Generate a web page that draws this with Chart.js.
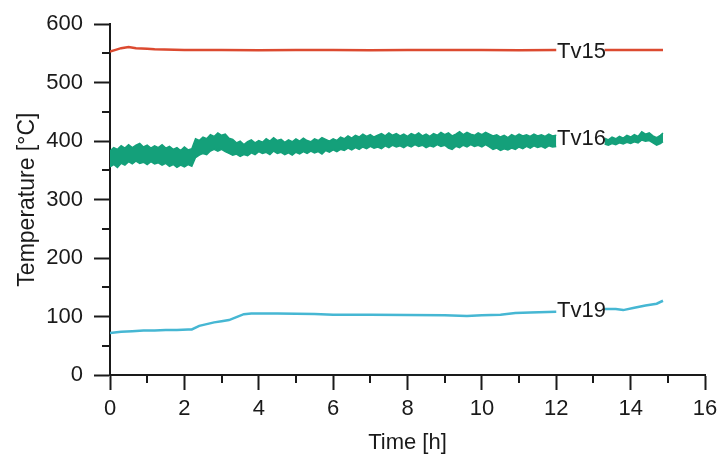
<!DOCTYPE html>
<html>
<head>
<meta charset="utf-8">
<script src="https://cdn.jsdelivr.net/npm/chart.js@4"></script>
<style>
  html, body { margin: 0; padding: 0; background: #ffffff; }
  #wrap { width: 717px; height: 455px; }
</style>
</head>
<body>
<div id="wrap"><canvas id="c" width="717" height="455"></canvas></div>
<script>
// ---- Data ----
const t15 = [0, 0.15, 0.3, 0.5, 0.7, 1.0, 1.2, 2, 3, 4, 5, 6, 7, 8, 9, 10, 11, 12.0, 12.6, 13.3, 14, 14.87];
const v15 = [553, 556, 559, 561, 559, 558, 557, 556, 556, 555.5, 556, 556, 555.5, 556, 556, 556, 555.5, 556, null, 556, 556, 556];

const t16 = [
  0, 0.1, 0.2, 0.3, 0.4, 0.5, 0.6, 0.7, 0.8, 0.9,
  1.0, 1.1, 1.2, 1.3, 1.4, 1.5, 1.6, 1.7, 1.8, 1.9,
  2.0, 2.1, 2.2, 2.3, 2.4, 2.5, 2.6, 2.7, 2.8, 2.9,
  3.0, 3.1, 3.2, 3.3, 3.4, 3.5, 3.6, 3.7, 3.8, 3.9,
  4.0, 4.1, 4.2, 4.3, 4.4, 4.5, 4.6, 4.7, 4.8, 4.9,
  5.0, 5.1, 5.2, 5.3, 5.4, 5.5, 5.6, 5.7, 5.8, 5.9,
  6.0, 6.1, 6.2, 6.3, 6.4, 6.5, 6.6, 6.7, 6.8, 6.9,
  7.0, 7.1, 7.2, 7.3, 7.4, 7.5, 7.6, 7.7, 7.8, 7.9,
  8.0, 8.1, 8.2, 8.3, 8.4, 8.5, 8.6, 8.7, 8.8, 8.9,
  9.0, 9.1, 9.2, 9.3, 9.4, 9.5, 9.6, 9.7, 9.8, 9.9,
  10.0, 10.1, 10.2, 10.3, 10.4, 10.5, 10.6, 10.7, 10.8, 10.9,
  11.0, 11.1, 11.2, 11.3, 11.4, 11.5, 11.6, 11.7, 11.8, 11.9,
  12.0, 12.6,
  13.3, 13.4, 13.5, 13.6, 13.7, 13.8, 13.9,
  14.0, 14.1, 14.2, 14.3, 14.4, 14.5, 14.6, 14.7, 14.8, 14.87];
const v16Upper = [
  383, 389, 386, 392, 388, 394, 389, 393, 396, 390,
  393, 388, 392, 389, 394, 388, 391, 386, 389, 384,
  390, 385, 387, 404, 401, 407, 404, 411, 408, 414,
  410, 412, 405, 403, 397, 400, 394, 399, 402, 397,
  401, 398, 404, 400, 406, 401, 403, 398, 402, 399,
  404, 400, 405, 401, 399, 404, 401, 406, 403, 400,
  404, 401, 407, 404, 409, 405, 410, 407, 412, 408,
  411, 407, 410, 413, 409, 414, 410, 413, 409, 412,
  408, 413, 410, 414, 409, 412, 408, 413, 410, 415,
  411, 414, 409, 412, 416, 411, 415, 412, 410, 414,
  411, 415, 412, 409, 411, 407, 410, 406, 411, 408,
  412, 409, 411, 408, 412, 409, 411, 408, 412, 409,
  410, null,
  405, 402, 407, 404, 408, 405, 410,
  407, 411, 408, 416, 412, 414, 409, 406, 410, 414];
const v16Lower = [
  356, 360, 355, 362, 359, 365, 361, 366, 362, 364,
  360, 365, 361, 363, 359, 362, 357, 360, 355, 359,
  356, 360, 357, 372, 376, 379, 377, 383, 386, 383,
  386, 382, 379, 376, 378, 374, 377, 375, 380, 377,
  382, 379, 381, 377, 383, 379, 381, 377, 380, 376,
  381, 378, 382, 379, 383, 380, 382, 378, 384, 381,
  385, 382, 386, 384, 388, 385, 389, 386, 390, 387,
  391, 388, 390, 387, 392, 389, 393, 390, 392, 389,
  393, 390, 394, 391, 393, 389, 392, 390, 394, 391,
  393, 388, 386, 391, 389, 393, 390, 394, 391, 393,
  390, 394, 390, 386, 388, 384, 387, 385, 388, 386,
  390, 387, 391, 388, 392, 389, 391, 388, 392, 390,
  391, null,
  395, 393, 396, 394, 397, 395, 398,
  396, 399, 397, 402, 400, 401, 397, 393, 396, 399];

const t19 = [0, 0.3, 0.6, 0.9, 1.2, 1.5, 1.8, 2.1, 2.2, 2.4, 2.6, 2.8, 3.0, 3.2, 3.4, 3.6, 3.8, 4.5, 5.5, 6.0, 7, 8, 9, 9.6,
  10.0, 10.5, 10.9, 11.3, 12.0, 12.6, 13.3, 13.6, 13.8, 14.1, 14.4, 14.7, 14.87];
const v19 = [72, 74, 75, 76, 76, 77, 77, 78, 78, 84, 87, 90, 92, 94, 99, 104, 105, 105, 104.5, 103, 103, 102.5, 102, 101,
  102, 103, 106, 107, 108, null, 113, 113, 111, 115, 119, 122, 127];

const seriesLabels = ['Tv15', 'Tv16', 'Tv19'];
const labelX = [12.68, 12.68, 12.68];
const labelY = [555, 406, 112];

const xTicks = [0, 2, 4, 6, 8, 10, 12, 14, 16];
const yTicks = [0, 100, 200, 300, 400, 500, 600];
const xMinor = [1, 3, 5, 7, 9, 11, 13, 15];
const yMinor = [50, 150, 250, 350, 450, 550];

// ---- Styles ----
const FONT = '"Liberation Sans", Arial, sans-serif';
const INK = '#1a1a1a';
const C15 = '#dc4a30';
const C16 = '#14a07a';
const C19 = '#46b7d3';

const pts = (t, v) => t.map((x, i) => ({ x: x, y: v[i] }));

const minorTicks = {
  id: 'minorTicks',
  afterDraw(chart) {
    const { ctx } = chart;
    const xs = chart.scales.x, ys = chart.scales.y;
    ctx.save();
    ctx.strokeStyle = INK;
    ctx.lineWidth = 2;
    ctx.beginPath();
    for (const v of xMinor) {
      const px = Math.round(xs.getPixelForValue(v));
      ctx.moveTo(px, ys.bottom);
      ctx.lineTo(px, ys.bottom + 8);
    }
    for (const v of yMinor) {
      const py = Math.round(ys.getPixelForValue(v));
      ctx.moveTo(xs.left, py);
      ctx.lineTo(xs.left - 8, py);
    }
    ctx.stroke();
    ctx.restore();
  }
};

const seriesText = {
  id: 'seriesText',
  afterDatasetsDraw(chart) {
    const { ctx } = chart;
    const xs = chart.scales.x, ys = chart.scales.y;
    ctx.save();
    ctx.fillStyle = INK;
    ctx.font = '22px ' + FONT;
    ctx.textAlign = 'center';
    ctx.textBaseline = 'middle';
    seriesLabels.forEach((s, i) => {
      ctx.fillText(s, xs.getPixelForValue(labelX[i]), ys.getPixelForValue(labelY[i]) + 1);
    });
    ctx.restore();
  }
};

new Chart(document.getElementById('c'), {
  type: 'line',
  data: {
    datasets: [
      { label: 'Tv15', data: pts(t15, v15), borderColor: C15, borderWidth: 2.5, pointRadius: 0, fill: false, tension: 0 },
      { label: 'Tv16 upper', data: pts(t16, v16Upper), borderColor: C16, borderWidth: 1.5, pointRadius: 0, fill: false, tension: 0 },
      { label: 'Tv16 lower', data: pts(t16, v16Lower), borderColor: C16, borderWidth: 1.5, pointRadius: 0,
        fill: '-1', backgroundColor: C16, tension: 0 },
      { label: 'Tv19', data: pts(t19, v19), borderColor: C19, borderWidth: 2.5, pointRadius: 0, fill: false, tension: 0 }
    ]
  },
  options: {
    responsive: false,
    animation: false,
    devicePixelRatio: 1,
    spanGaps: false,
    layout: { padding: { top: 21, right: 12, left: 0, bottom: 0 } },
    plugins: { legend: { display: false }, tooltip: { enabled: false } },
    scales: {
      x: {
        type: 'linear', min: 0, max: 16,
        afterBuildTicks: (s) => { s.ticks = xTicks.map(v => ({ value: v })); },
        afterFit: (s) => { s.height = 80; s.paddingRight = 0; s.paddingLeft = 0; },
        ticks: { color: INK, font: { family: FONT, size: 22 }, padding: 6, maxRotation: 0 },
        grid: { drawOnChartArea: false, drawTicks: true, tickLength: 15, tickWidth: 2, tickColor: INK },
        border: { display: true, color: INK, width: 2 },
        title: { display: true, text: 'Time [h]', color: INK, font: { family: FONT, size: 22, lineHeight: 1.0 }, padding: { top: 0, bottom: 1 } }
      },
      y: {
        type: 'linear', min: 0, max: 600,
        afterBuildTicks: (s) => { s.ticks = yTicks.map(v => ({ value: v })); },
        afterFit: (s) => { s.width = 110; },
        ticks: { color: INK, font: { family: FONT, size: 22 }, padding: 11 },
        grid: { drawOnChartArea: false, drawTicks: true, tickLength: 16, tickWidth: 2, tickColor: INK },
        border: { display: true, color: INK, width: 2 },
        title: { display: true, text: 'Temperature [°C]', color: INK, font: { family: FONT, size: 23, lineHeight: 1.0 }, padding: { top: 16, bottom: 0 } }
      }
    }
  },
  plugins: [minorTicks, seriesText]
});
</script>
</body>
</html>
